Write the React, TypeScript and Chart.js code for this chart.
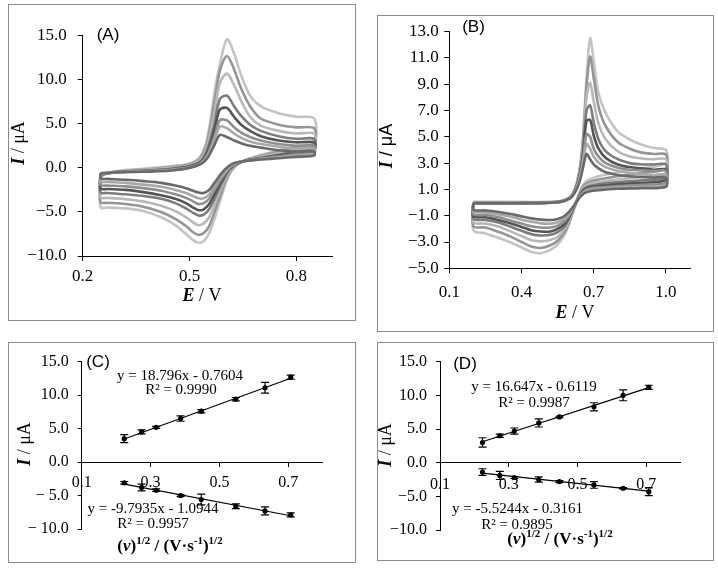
import React, { useEffect, useRef } from "react";
import { Chart, registerables } from "chart.js";

Chart.register(...registerables);

const SERIF = '"Liberation Serif", "Times New Roman", Times, serif';
const SANS = '"Liberation Sans", Arial, Helvetica, sans-serif';

// ---------- Panel A (cyclic voltammograms) ----------
const A_X_TICKS = [0.2, 0.5, 0.8];
const A_Y_TICKS = [-10, -5, 0, 5, 10, 15];
const A_FWD_E = [0.25, 0.27, 0.3, 0.35, 0.4, 0.45, 0.5, 0.53, 0.55, 0.57, 0.585, 0.605, 0.625, 0.645, 0.67, 0.7, 0.75, 0.8, 0.85];
const A_FWD = [
  [-0.6, -0.55, -0.5, -0.45, -0.4, -0.3, 0.0, 0.4, 1.1, 2.6, 3.75, 3.5, 3.1, 2.8, 2.5, 2.3, 2.0, 1.85, 1.85],
  [-0.65, -0.55, -0.5, -0.42, -0.35, -0.25, 0.05, 0.45, 1.3, 3.1, 4.7, 4.5, 3.9, 3.4, 3.0, 2.7, 2.4, 2.2, 2.2],
  [-0.7, -0.6, -0.5, -0.4, -0.3, -0.2, 0.1, 0.5, 1.5, 3.6, 5.4, 5.4, 4.6, 4.0, 3.5, 3.1, 2.7, 2.5, 2.5],
  [-0.75, -0.6, -0.48, -0.38, -0.28, -0.15, 0.15, 0.6, 1.8, 4.3, 6.6, 6.8, 5.8, 4.9, 4.2, 3.6, 3.1, 2.9, 2.9],
  [-0.8, -0.6, -0.45, -0.35, -0.25, -0.1, 0.2, 0.7, 2.1, 5.0, 7.8, 8.2, 7.0, 5.9, 4.9, 4.2, 3.6, 3.3, 3.3],
  [-0.85, -0.6, -0.42, -0.3, -0.15, 0.0, 0.3, 0.9, 2.6, 6.3, 9.6, 10.7, 9.4, 7.6, 5.8, 4.8, 4.2, 3.9, 3.9],
  [-0.9, -0.6, -0.4, -0.25, -0.1, 0.1, 0.4, 1.1, 3.0, 7.4, 11.0, 12.7, 11.2, 9.0, 7.0, 5.6, 4.9, 4.6, 4.5],
  [-1.0, -0.6, -0.35, -0.15, 0.0, 0.2, 0.5, 1.3, 3.4, 8.6, 11.7, 14.6, 13.0, 10.5, 8.2, 7.0, 6.2, 5.8, 5.6],
];
const A_REV_E = [0.85, 0.8, 0.75, 0.7, 0.66, 0.63, 0.61, 0.59, 0.57, 0.555, 0.54, 0.525, 0.51, 0.49, 0.46, 0.42, 0.37, 0.32, 0.27, 0.25];
const A_REV = [
  [1.4, 1.25, 1.1, 0.95, 0.8, 0.6, 0.2, -0.6, -1.7, -2.5, -2.85, -2.8, -2.6, -2.3, -2.0, -1.7, -1.5, -1.35, -1.25, -1.2],
  [1.6, 1.4, 1.2, 1.0, 0.8, 0.55, 0.05, -0.9, -2.1, -3.0, -3.45, -3.45, -3.2, -2.85, -2.5, -2.15, -1.9, -1.7, -1.6, -1.55],
  [1.8, 1.55, 1.3, 1.05, 0.8, 0.5, -0.1, -1.2, -2.5, -3.5, -4.0, -4.1, -3.8, -3.4, -3.0, -2.6, -2.3, -2.1, -2.0, -1.95],
  [2.0, 1.7, 1.4, 1.1, 0.85, 0.45, -0.2, -1.5, -3.0, -4.1, -4.7, -4.8, -4.5, -4.0, -3.5, -3.1, -2.75, -2.5, -2.4, -2.35],
  [2.2, 1.85, 1.5, 1.15, 0.85, 0.4, -0.3, -1.8, -3.5, -4.7, -5.3, -5.4, -5.1, -4.6, -4.0, -3.5, -3.2, -3.0, -2.85, -2.8],
  [2.5, 2.1, 1.7, 1.25, 0.9, 0.35, -0.5, -2.2, -4.2, -5.6, -6.3, -6.5, -6.2, -5.6, -4.9, -4.3, -3.8, -3.55, -3.4, -3.35],
  [2.8, 2.3, 1.85, 1.35, 0.9, 0.3, -0.7, -2.7, -5.0, -6.6, -7.4, -7.6, -7.3, -6.6, -5.8, -5.0, -4.4, -4.1, -3.95, -3.9],
  [3.1, 2.5, 2.0, 1.45, 0.95, 0.25, -0.9, -3.2, -5.8, -7.4, -8.3, -8.5, -8.2, -7.5, -6.5, -5.6, -4.9, -4.6, -4.5, -4.5],
];

// ---------- Panel B (cyclic voltammograms) ----------
const B_X_TICKS = [0.1, 0.4, 0.7, 1.0];
const B_Y_TICKS = [-5, -3, -1, 1, 3, 5, 7, 9, 11, 13];
const B_FWD_E = [0.2, 0.3, 0.4, 0.5, 0.56, 0.6, 0.62, 0.64, 0.655, 0.67, 0.685, 0.7, 0.72, 0.75, 0.8, 0.85, 0.9, 0.95, 1.0];
const B_FWD = [
  [-0.05, -0.05, -0.05, -0.03, 0.05, 0.3, 0.7, 1.5, 2.6, 3.7, 3.3, 2.9, 2.6, 2.3, 2.1, 2.0, 1.95, 1.9, 1.9],
  [-0.05, -0.05, -0.05, -0.03, 0.05, 0.3, 0.75, 1.7, 3.0, 4.45, 4.1, 3.5, 3.05, 2.7, 2.4, 2.25, 2.15, 2.1, 2.1],
  [-0.05, -0.05, -0.05, -0.02, 0.06, 0.32, 0.8, 1.8, 3.3, 5.2, 5.0, 4.1, 3.5, 3.0, 2.65, 2.5, 2.45, 2.4, 2.4],
  [-0.05, -0.05, -0.04, -0.02, 0.06, 0.33, 0.85, 1.9, 3.6, 6.2, 6.3, 5.1, 4.1, 3.4, 2.9, 2.7, 2.6, 2.5, 2.5],
  [-0.04, -0.04, -0.03, -0.01, 0.07, 0.35, 0.85, 2.0, 3.8, 7.0, 7.4, 6.1, 4.8, 3.9, 3.3, 3.0, 2.9, 2.9, 2.9],
  [-0.03, -0.03, -0.02, 0.0, 0.08, 0.37, 0.9, 2.2, 4.3, 8.0, 9.1, 7.7, 6.0, 4.8, 3.9, 3.5, 3.35, 3.3, 3.3],
  [0.0, 0.0, 0.0, 0.02, 0.09, 0.38, 0.9, 2.3, 4.6, 8.8, 11.1, 9.5, 7.3, 5.8, 4.6, 4.1, 3.8, 3.7, 3.65],
  [0.05, 0.05, 0.05, 0.05, 0.1, 0.4, 0.95, 2.4, 4.9, 9.5, 12.5, 10.8, 8.3, 6.8, 5.4, 4.8, 4.4, 4.15, 4.0],
];
const B_REV_E = [1.0, 0.9, 0.8, 0.72, 0.68, 0.66, 0.645, 0.63, 0.615, 0.6, 0.58, 0.55, 0.52, 0.48, 0.44, 0.4, 0.35, 0.3, 0.25, 0.2];
const B_REV = [
  [1.2, 1.1, 1.05, 0.95, 0.85, 0.7, 0.45, 0.1, -0.3, -0.65, -1.0, -1.25, -1.33, -1.3, -1.2, -1.05, -0.85, -0.7, -0.6, -0.55],
  [1.35, 1.2, 1.15, 1.05, 0.95, 0.8, 0.5, 0.1, -0.35, -0.8, -1.2, -1.5, -1.6, -1.58, -1.45, -1.3, -1.05, -0.88, -0.75, -0.7],
  [1.5, 1.35, 1.25, 1.15, 1.05, 0.85, 0.55, 0.1, -0.4, -0.9, -1.4, -1.75, -1.9, -1.9, -1.8, -1.6, -1.35, -1.1, -0.95, -0.9],
  [1.7, 1.5, 1.4, 1.25, 1.15, 0.95, 0.6, 0.1, -0.45, -1.0, -1.6, -2.0, -2.2, -2.2, -2.1, -1.85, -1.55, -1.3, -1.12, -1.05],
  [1.9, 1.7, 1.55, 1.4, 1.25, 1.05, 0.7, 0.15, -0.5, -1.1, -1.8, -2.25, -2.45, -2.5, -2.4, -2.15, -1.8, -1.5, -1.32, -1.25],
  [2.2, 1.95, 1.75, 1.55, 1.4, 1.15, 0.8, 0.15, -0.55, -1.25, -2.0, -2.6, -2.85, -2.95, -2.85, -2.55, -2.15, -1.8, -1.6, -1.5],
  [2.6, 2.25, 2.0, 1.75, 1.55, 1.3, 0.85, 0.15, -0.6, -1.4, -2.2, -2.9, -3.25, -3.45, -3.35, -3.0, -2.55, -2.2, -1.9, -1.8],
  [3.0, 2.6, 2.3, 2.0, 1.75, 1.45, 0.95, 0.2, -0.7, -1.5, -2.4, -3.2, -3.6, -3.85, -3.75, -3.4, -3.0, -2.65, -2.35, -2.1],
];

const CURVE_COLORS = ["#6a6a6a", "#a8a8a8", "#8e8e8e", "#545454", "#7c7c7c", "#b8b8b8", "#959595", "#c4c4c4"];

// ---------- Panels C and D (peak current vs sqrt scan rate) ----------
const SQRT_V = [0.2236, 0.2739, 0.3162, 0.3873, 0.4472, 0.5477, 0.6325, 0.7071];
const CD_X_TICKS = [0.1, 0.3, 0.5, 0.7];
const CD_Y_TICKS = [-10, -5, 0, 5, 10, 15];

const C_ANODIC = [3.5, 4.5, 5.2, 6.5, 7.6, 9.4, 11.1, 12.7];
const C_ANODIC_ERR = [0.6, 0.3, 0.15, 0.4, 0.25, 0.25, 0.8, 0.3];
const C_CATHODIC = [-3.1, -3.8, -4.2, -5.0, -5.6, -6.6, -7.3, -7.9];
const C_CATHODIC_ERR = [0.2, 0.5, 0.2, 0.15, 0.8, 0.35, 0.6, 0.3];
const C_ANODIC_FIT = [18.796, -0.7604];
const C_CATHODIC_FIT = [-9.7935, -1.0944];

const D_ANODIC = [3.0, 4.0, 4.7, 5.9, 6.8, 8.3, 10.0, 11.2];
const D_ANODIC_ERR = [0.7, 0.25, 0.45, 0.6, 0.1, 0.6, 0.8, 0.3];
const D_CATHODIC = [-1.4, -1.9, -2.2, -2.5, -2.8, -3.3, -3.8, -4.3];
const D_CATHODIC_ERR = [0.5, 0.6, 0.15, 0.4, 0.15, 0.5, 0.1, 0.6];
const D_ANODIC_FIT = [16.647, -0.6119];
const D_CATHODIC_FIT = [-5.5244, -0.3161];

// ---------- helpers ----------
type Seg = { t: string; f: string; dy?: number };
type Rich = { x: number; y: number; rot?: boolean; segs: Seg[] };

const fmt = (v: number) => (v < -1e-9 ? "\u2212" + Math.abs(v).toFixed(1) : Math.abs(v).toFixed(1));
const fmtSpaced = (v: number) => (v < -1e-9 ? "\u2212 " + Math.abs(v).toFixed(1) : Math.abs(v).toFixed(1));

function richTextPlugin(items: Rich[]) {
  return {
    id: "richText",
    afterDraw(chart: any) {
      const ctx = chart.ctx as CanvasRenderingContext2D;
      items.forEach((it) => {
        ctx.save();
        ctx.translate(it.x, it.y);
        if (it.rot) ctx.rotate(-Math.PI / 2);
        let total = 0;
        it.segs.forEach((s) => {
          ctx.font = s.f;
          total += ctx.measureText(s.t).width;
        });
        let cx = -total / 2;
        ctx.textAlign = "left";
        ctx.textBaseline = "middle";
        ctx.fillStyle = "#000";
        it.segs.forEach((s) => {
          ctx.font = s.f;
          ctx.fillText(s.t, cx, s.dy || 0);
          cx += ctx.measureText(s.t).width;
        });
        ctx.restore();
      });
    },
  };
}

const errorBarPlugin = {
  id: "errorBars",
  afterDatasetsDraw(chart: any) {
    const ctx = chart.ctx as CanvasRenderingContext2D;
    const xs = chart.scales.x;
    const ys = chart.scales.y;
    ctx.save();
    ctx.strokeStyle = "#000";
    ctx.lineWidth = 1.2;
    chart.data.datasets.forEach((ds: any) => {
      if (!ds.errorBars) return;
      ds.data.forEach((p: any, i: number) => {
        const e = ds.errorBars[i];
        const px = xs.getPixelForValue(p.x);
        const y1 = ys.getPixelForValue(p.y + e);
        const y2 = ys.getPixelForValue(p.y - e);
        ctx.beginPath();
        ctx.moveTo(px, y1);
        ctx.lineTo(px, y2);
        ctx.moveTo(px - 4, y1);
        ctx.lineTo(px + 4, y1);
        ctx.moveTo(px - 4, y2);
        ctx.lineTo(px + 4, y2);
        ctx.stroke();
      });
    });
    ctx.restore();
  },
};

function makeAxis(min: number, max: number, tickVals: number[], fontSize: number, tickLen: number, pad: number, extra: any, formatter = fmt) {
  return {
    type: "linear",
    min,
    max,
    afterBuildTicks: (s: any) => {
      s.ticks = tickVals.map((v) => ({ value: v }));
    },
    ticks: {
      callback: (v: any) => formatter(Number(v)),
      font: { family: SERIF, size: fontSize },
      color: "#000",
      padding: pad,
      autoSkip: false,
      maxRotation: 0,
      minRotation: 0,
    },
    grid: { display: true, drawOnChartArea: false, drawTicks: true, tickLength: tickLen, color: "#000", lineWidth: 1 },
    border: { display: true, color: "#000", width: 1 },
    ...extra,
  };
}

function cvDatasets(fwdE: number[], fwd: number[][], revE: number[], rev: number[][]) {
  return fwd.map((f, k) => {
    const pts: { x: number; y: number }[] = [];
    fwdE.forEach((e, i) => pts.push({ x: e, y: f[i] }));
    revE.forEach((e, i) => pts.push({ x: e, y: rev[k][i] }));
    pts.push({ x: fwdE[0], y: f[0] });
    return {
      data: pts,
      showLine: true,
      borderColor: CURVE_COLORS[k],
      borderWidth: 2.6,
      pointRadius: 0,
      tension: 0.3,
      fill: false,
    };
  });
}

const yTitle = (x: number, y: number, unitFont: string): Rich => ({
  x,
  y,
  rot: true,
  segs: [
    { t: "I", f: `bold italic 18px ${SERIF}` },
    { t: " / \u03bcA", f: `18px ${unitFont}` },
  ],
});
const eTitle = (x: number, y: number): Rich => ({
  x,
  y,
  segs: [
    { t: "E", f: `bold italic 18px ${SERIF}` },
    { t: " / V", f: `18px ${SERIF}` },
  ],
});
const vTitle = (x: number, y: number): Rich => {
  const B = `bold 17px ${SERIF}`;
  const BI = `bold italic 17px ${SERIF}`;
  const S = `bold 11px ${SERIF}`;
  return {
    x,
    y,
    segs: [
      { t: "(", f: B },
      { t: "v", f: BI },
      { t: ")", f: B },
      { t: "1/2", f: S, dy: -6 },
      { t: " / (V\u00b7s", f: B },
      { t: "-1", f: S, dy: -6 },
      { t: ")", f: B },
      { t: "1/2", f: S, dy: -6 },
    ],
  };
};
const label = (x: number, y: number, t: string): Rich => ({ x, y, segs: [{ t, f: `17px ${SANS}` }] });
const eq = (x: number, y: number, t: string): Rich => ({ x, y, segs: [{ t, f: `15px ${SERIF}` }] });

function cvConfig(p: any) {
  return {
    type: "scatter",
    data: { datasets: cvDatasets(p.fwdE, p.fwd, p.revE, p.rev) },
    options: {
      animation: false,
      responsive: false,
      devicePixelRatio: 1,
      events: [],
      layout: { padding: { left: 0, top: p.top, right: p.right, bottom: 0 } },
      plugins: { legend: { display: false }, tooltip: { enabled: false } },
      scales: {
        x: makeAxis(p.xMin, p.xMax, p.xTicks, 17, 5, p.xPad, {
          position: "bottom",
          afterFit: (s: any) => {
            s.height = p.xHeight;
          },
        }),
        y: makeAxis(p.yMin, p.yMax, p.yTicks, 17, 5, p.yPad, {
          position: "left",
          afterFit: (s: any) => {
            s.width = p.yWidth;
          },
        }),
      },
    },
    plugins: [richTextPlugin(p.texts)],
  };
}

function pointSet(vals: number[], errs: number[]) {
  return {
    data: SQRT_V.map((x, i) => ({ x, y: vals[i] })),
    errorBars: errs,
    showLine: false,
    pointRadius: 2.6,
    pointBackgroundColor: "#000",
    pointBorderWidth: 0,
  };
}
function fitSet(fit: number[]) {
  const x0 = SQRT_V[0];
  const x1 = SQRT_V[SQRT_V.length - 1];
  return {
    data: [
      { x: x0, y: fit[0] * x0 + fit[1] },
      { x: x1, y: fit[0] * x1 + fit[1] },
    ],
    showLine: true,
    borderColor: "#000",
    borderWidth: 1.2,
    pointRadius: 0,
    fill: false,
  };
}

function regConfig(p: any) {
  return {
    type: "scatter",
    data: {
      datasets: [fitSet(p.aFit), fitSet(p.cFit), pointSet(p.a, p.aErr), pointSet(p.c, p.cErr)],
    },
    options: {
      animation: false,
      responsive: false,
      devicePixelRatio: 1,
      events: [],
      layout: { padding: { left: 0, top: p.top, right: p.right, bottom: p.bottom } },
      plugins: { legend: { display: false }, tooltip: { enabled: false } },
      scales: {
        x: makeAxis(0.1, 0.8, CD_X_TICKS, 16, 4, p.xPad, { position: { y: 0 } }),
        y: makeAxis(
          -10,
          15,
          CD_Y_TICKS,
          16,
          4,
          9,
          {
            position: "left",
            afterFit: (s: any) => {
              s.width = p.yWidth;
            },
          },
          p.yFmt || fmt
        ),
      },
    },
    plugins: [errorBarPlugin, richTextPlugin(p.texts)],
  };
}

type Box = { x: number; y: number; w: number; h: number };

function Panel({ box, build }: { box: Box; build: () => any }) {
  const ref = useRef<HTMLCanvasElement | null>(null);
  useEffect(() => {
    if (!ref.current) return;
    const chart = new Chart(ref.current, build());
    return () => chart.destroy();
  }, []);
  const iw = box.w - 2;
  const ih = box.h - 2;
  return (
    <div
      style={{
        position: "absolute",
        left: box.x,
        top: box.y,
        width: box.w,
        height: box.h,
        border: "1px solid #8c8c8c",
        boxSizing: "border-box",
        background: "#fff",
      }}
    >
      <canvas ref={ref} width={iw} height={ih} style={{ display: "block", width: iw, height: ih }} />
    </div>
  );
}

export default function App() {
  return (
    <div style={{ position: "absolute", left: 0, top: 0, width: 718, height: 573, background: "#fff" }}>
      <Panel
        box={{ x: 8, y: 4, w: 348, h: 317 }}
        build={() =>
          cvConfig({
            fwdE: A_FWD_E, fwd: A_FWD, revE: A_REV_E, rev: A_REV,
            xMin: 0.2, xMax: 0.9, xTicks: A_X_TICKS,
            yMin: -10, yMax: 15, yTicks: A_Y_TICKS,
            top: 30.7, right: 23, xHeight: 64, yWidth: 73.7, xPad: 5, yPad: 11,
            texts: [yTitle(10.5, 138, SERIF), eTitle(193, 291), label(99, 30, "(A)")],
          })
        }
      />
      <Panel
        box={{ x: 377, y: 15, w: 337, h: 317 }}
        build={() =>
          cvConfig({
            fwdE: B_FWD_E, fwd: B_FWD, revE: B_REV_E, rev: B_REV,
            xMin: 0.1, xMax: 1.1, xTicks: B_X_TICKS,
            yMin: -5, yMax: 13, yTicks: B_Y_TICKS,
            top: 14.7, right: 23, xHeight: 62.7, yWidth: 71.3, xPad: 9.5, yPad: 5.5,
            texts: [yTitle(9, 130, SANS), eTitle(197, 297), label(95.5, 11, "(B)")],
          })
        }
      />
      <Panel
        box={{ x: 8, y: 342, w: 348, h: 221 }}
        build={() =>
          regConfig({
            a: C_ANODIC, aErr: C_ANODIC_ERR, c: C_CATHODIC, cErr: C_CATHODIC_ERR,
            aFit: C_ANODIC_FIT, cFit: C_CATHODIC_FIT,
            top: 18.7, right: 32.3, bottom: 33, yWidth: 72.7, xPad: 7.4, yFmt: fmtSpaced,
            texts: [
              yTitle(16, 101, SERIF),
              vTitle(161, 204),
              label(89, 19, "(C)"),
              eq(171, 33, "y = 18.796x - 0.7604"),
              eq(172, 47, "R\u00b2 = 0.9990"),
              eq(144, 166, "y = -9.7935x - 1.0944"),
              eq(144, 181, "R\u00b2 = 0.9957"),
            ],
          })
        }
      />
      <Panel
        box={{ x: 377, y: 342, w: 337, h: 219 }}
        build={() =>
          regConfig({
            a: D_ANODIC, aErr: D_ANODIC_ERR, c: D_CATHODIC, cErr: D_CATHODIC_ERR,
            aFit: D_ANODIC_FIT, cFit: D_CATHODIC_FIT,
            top: 18.7, right: 32.3, bottom: 30, yWidth: 62, xPad: 8.7,
            texts: [
              yTitle(8, 102, SERIF),
              vTitle(182, 197),
              label(87, 21, "(D)"),
              eq(156, 44, "y = 16.647x - 0.6119"),
              eq(156, 60, "R\u00b2 = 0.9987"),
              eq(139.5, 166, "y = -5.5244x - 0.3161"),
              eq(139, 182, "R\u00b2 = 0.9895"),
            ],
          })
        }
      />
    </div>
  );
}
